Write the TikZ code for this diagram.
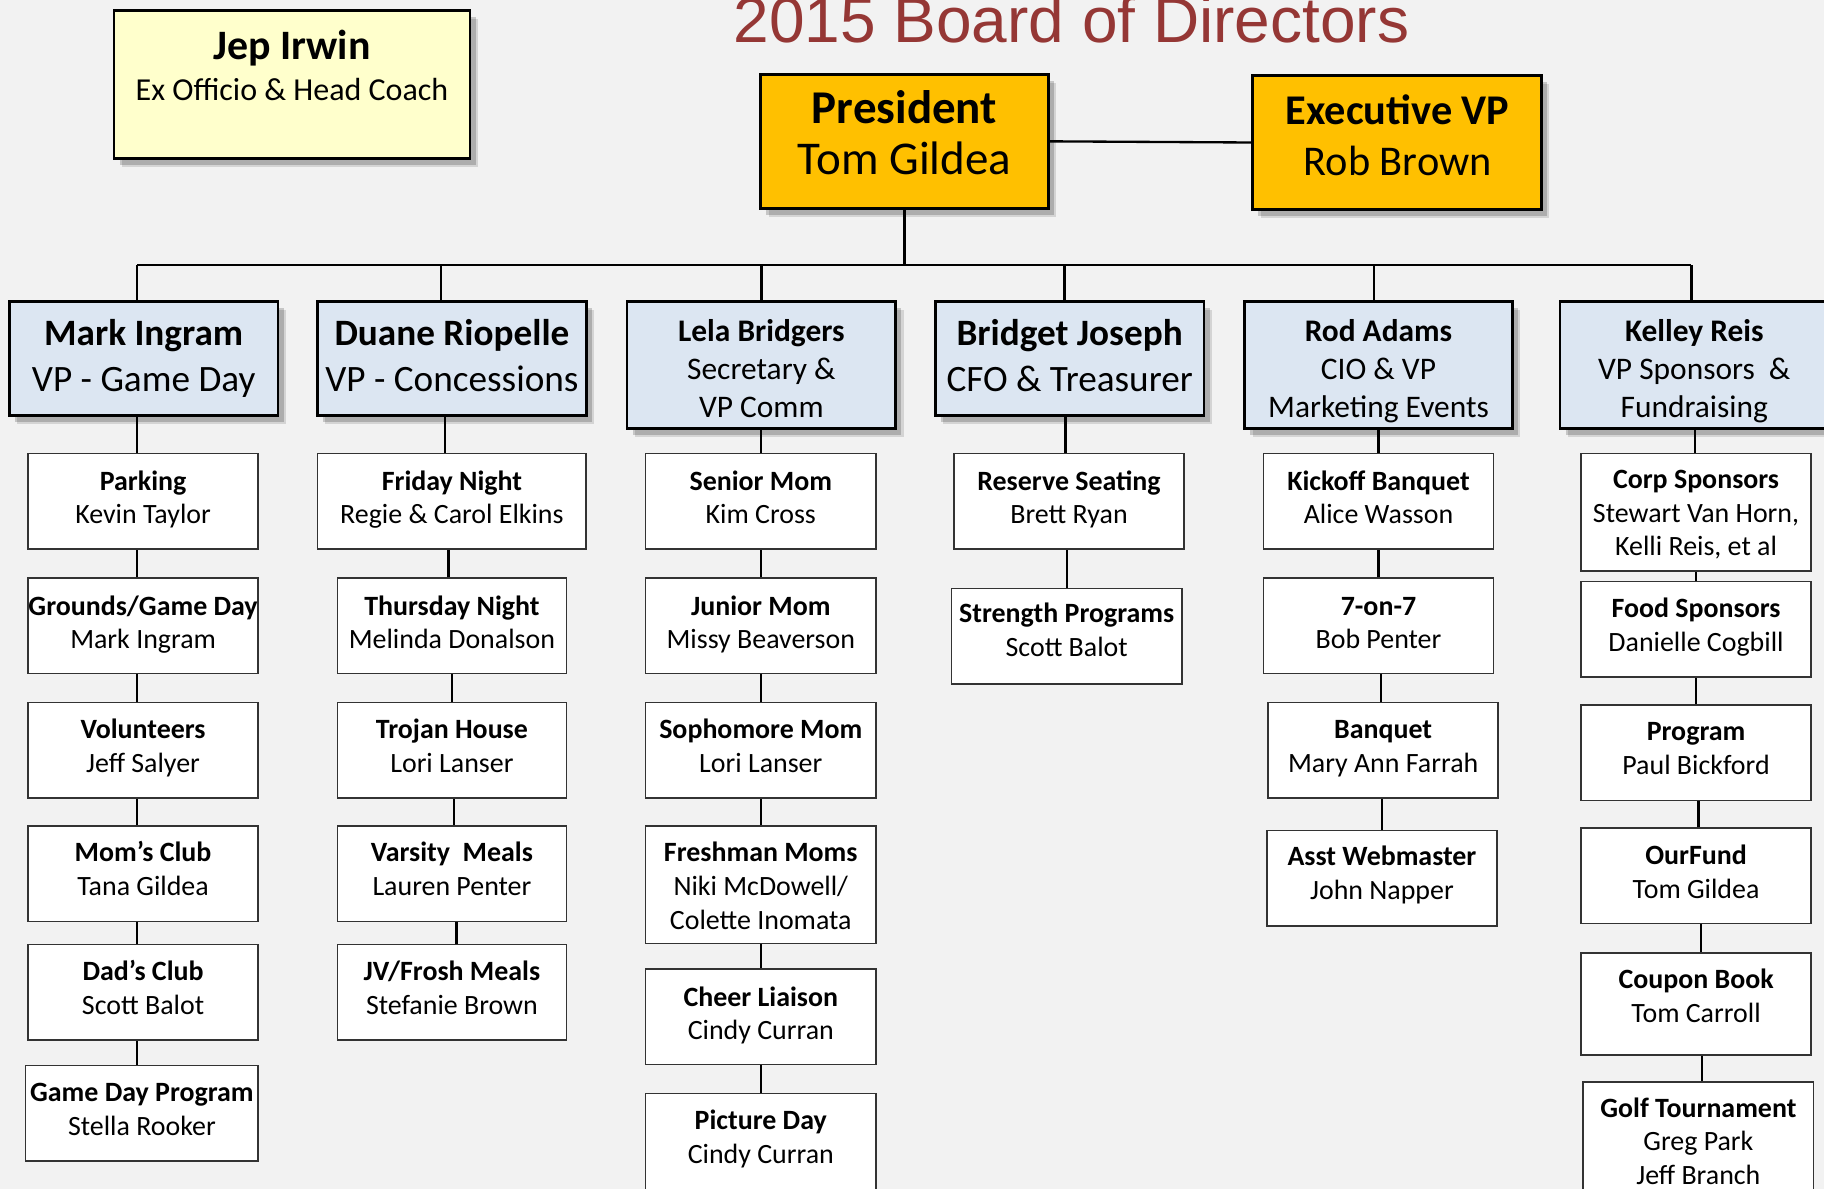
\documentclass[tikz,border=0pt]{standalone}
\usepackage{fontspec}
\setmainfont{Carlito}
\newfontfamily\titlefont{Liberation Sans}
\usetikzlibrary{shadows}
\definecolor{bgcol}{HTML}{F2F2F2}
\definecolor{paleyellow}{HTML}{FFFFCC}
\definecolor{gold}{HTML}{FFC000}
\definecolor{vpblue}{HTML}{DCE6F2}
\definecolor{titlered}{HTML}{953735}
\tikzset{
  softshadow/.style={general shadow={shadow xshift=3.4pt,shadow yshift=-3.8pt,fill=black,opacity=.12},
                     general shadow={shadow xshift=2.4pt,shadow yshift=-2.8pt,fill=black,opacity=.18}},
  topbox/.style={draw=black, line width=1.25pt, softshadow, inner sep=0pt},
  vpbox/.style={draw=black, line width=1.25pt, fill=vpblue, softshadow, inner sep=0pt},
  vpbox text/.style={align=center, inner sep=0pt, font=\fontsize{16}{19.5}\selectfont},
  vpsmall/.style={vpbox},
  vpsmall text/.style={align=center, inner sep=0pt, font=\fontsize{13.5}{16.25}\selectfont},
  subbox/.style={draw=black!80, line width=0.7pt, fill=white, inner sep=0pt},
  subbox text/.style={align=center, inner sep=0pt, font=\fontsize{12}{14.5}\selectfont},
  conn/.style={draw=black, line width=1pt},
}
\newcommand\bx[8]{%
  \pgfmathsetmacro\bxw{(#5-#3)*0.5}%
  \pgfmathsetmacro\bxh{(#6-#4)*0.5}%
  \node[#1, minimum width=\bxw pt, minimum height=\bxh pt] (#2) at ({(#3+#5)/2},{(#4+#6)/2}) {};
  \node[#1 text] (#2t) at ({(#3+#5)/2},#7) {\strut #8\strut};
}
\begin{document}
\begin{tikzpicture}[x=0.5pt,y=-0.5pt]
\useasboundingbox (0,0) rectangle (1568,1022);
\clip (0,0) rectangle (1568,1022);
\fill[bgcol] (0,0) rectangle (1568,1022);

% title
\node[anchor=base, inner sep=0pt, font=\fontsize{27.5}{33}\selectfont\titlefont, text=titlered] (title) at (921,36.5) {2015 Board of Directors};

% top boxes
\node[topbox, fill=paleyellow, minimum width=153pt, minimum height=63.5pt] (jep) at (251,72.5) {};
\node[anchor=base, inner sep=0pt, font=\fontsize{18}{20}\selectfont\bfseries] (jepname) at (251,51) {Jep Irwin};
\node[anchor=base, inner sep=0pt, font=\fontsize{13.75}{16}\selectfont] (jeprole) at (251,86.6) {Ex Officio \& Head Coach};

\node[topbox, fill=gold, minimum width=123.5pt, minimum height=57.5pt] (pres) at (777.5,121.5) {};
\node[anchor=base, inner sep=0pt, font=\fontsize{20.2}{22}\selectfont\bfseries] (presA) at (777.5,106) {President};
\node[anchor=base, inner sep=0pt, font=\fontsize{20.2}{22}\selectfont] (presB) at (777.5,150) {Tom Gildea};

\node[topbox, fill=gold, minimum width=124pt, minimum height=57.5pt] (evp) at (1201,122.5) {};
\node[anchor=base, inner sep=0pt, font=\fontsize{18.2}{22}\selectfont\bfseries] (evpA) at (1201.5,107) {Executive VP};
\node[anchor=base, inner sep=0pt, font=\fontsize{18.2}{22}\selectfont] (evpB) at (1201.5,151) {Rob Brown};

% VP boxes
\bx{vpbox}{mark}{8}{259}{239}{357}{309}{\textbf{Mark Ingram}\\VP - Game Day}
\bx{vpbox}{duane}{273}{259}{504}{357}{309}{\textbf{Duane Riopelle}\\VP - Concessions}
\bx{vpsmall}{lela}{539}{259}{770}{368}{319.5}{\textbf{Lela Bridgers}\\Secretary \&\\VP Comm}
\bx{vpbox}{bridget}{804}{259}{1035}{357}{309}{\textbf{Bridget Joseph}\\CFO \& Treasurer}
\bx{vpsmall}{rod}{1070}{259}{1300}{368}{319.5}{\textbf{Rod Adams}\\CIO \& VP\\Marketing Events}
\bx{vpsmall}{kelley}{1341}{259}{1572}{368}{319.5}{\textbf{Kelley Reis}\\VP Sponsors\ \ \&\\Fundraising}

% column 1
\bx{subbox}{c11}{24}{390}{222}{472}{430}{\textbf{Parking}\\Kevin Taylor}
\bx{subbox}{c12}{24}{497}{222}{579}{537.5}{\textbf{Grounds/Game Day}\\Mark Ingram}
\bx{subbox}{c13}{24}{604}{222}{686}{643.5}{\textbf{Volunteers}\\Jeff Salyer}
\bx{subbox}{c14}{24}{710}{222}{792}{749.5}{\textbf{Mom’s Club}\\Tana Gildea}
\bx{subbox}{c15}{24}{812}{222}{894}{851.5}{\textbf{Dad’s Club}\\Scott Balot}
\bx{subbox}{c16}{22}{916}{222}{998}{955.5}{\textbf{Game Day Program}\\Stella Rooker}

% column 2
\bx{subbox}{c21}{273}{390}{504}{472}{430}{\textbf{Friday Night}\\Regie \& Carol Elkins}
\bx{subbox}{c22}{290}{497}{487}{579}{537.5}{\textbf{Thursday Night}\\Melinda Donalson}
\bx{subbox}{c23}{290}{604}{487}{686}{643.5}{\textbf{Trojan House}\\Lori Lanser}
\bx{subbox}{c24}{290}{710}{487}{792}{749.5}{\textbf{Varsity\ \ Meals}\\Lauren Penter}
\bx{subbox}{c25}{290}{812}{487}{894}{851.5}{\textbf{JV/Frosh Meals}\\Stefanie Brown}

% column 3
\bx{subbox}{c31}{555}{390}{753}{472}{430}{\textbf{Senior Mom}\\Kim Cross}
\bx{subbox}{c32}{555}{497}{753}{579}{537.5}{\textbf{Junior Mom}\\Missy Beaverson}
\bx{subbox}{c33}{555}{604}{753}{686}{643.5}{\textbf{Sophomore Mom}\\Lori Lanser}
\bx{subbox}{c34}{555}{710}{753}{811}{764}{\textbf{Freshman Moms}\\Niki McDowell/\\Colette Inomata}
\bx{subbox}{c35}{555}{833}{753}{915}{873.5}{\textbf{Cheer Liaison}\\Cindy Curran}
\bx{subbox}{c36}{555}{940}{753}{1030}{979.5}{\textbf{Picture Day}\\Cindy Curran}

% column 4
\bx{subbox}{c41}{820}{390}{1018}{472}{430}{\textbf{Reserve Seating}\\Brett Ryan}
\bx{subbox}{c42}{818}{506}{1016}{588}{544}{\textbf{Strength Programs}\\Scott Balot}

% column 5
\bx{subbox}{c51}{1086}{390}{1284}{472}{430}{\textbf{Kickoff Banquet}\\Alice Wasson}
\bx{subbox}{c52}{1086}{497}{1284}{579}{537.5}{\textbf{7-on-7}\\Bob Penter}
\bx{subbox}{c53}{1090}{604}{1288}{686}{643.5}{\textbf{Banquet}\\Mary Ann Farrah}
\bx{subbox}{c54}{1089}{714}{1287}{796}{753}{\textbf{Asst Webmaster}\\John Napper}

% column 6
\bx{subbox}{c61}{1359}{390}{1557}{491}{443}{\textbf{Corp Sponsors}\\Stewart Van Horn,\\Kelli Reis, et al}
\bx{subbox}{c62}{1359}{500}{1557}{582}{539.5}{\textbf{Food Sponsors}\\Danielle Cogbill}
\bx{subbox}{c63}{1359}{606}{1557}{688}{645.5}{\textbf{Program}\\Paul Bickford}
\bx{subbox}{c64}{1359}{712}{1557}{794}{752}{\textbf{OurFund}\\Tom Gildea}
\bx{subbox}{c65}{1359}{819}{1557}{907}{858.5}{\textbf{Coupon Book}\\Tom Carroll}
\bx{subbox}{c66}{1361}{930}{1559}{1040}{983.5}{\textbf{Golf Tournament}\\Greg Park\\Jeff Branch}

% connectors
\coordinate (busy) at (0,228);
\coordinate (busL) at ([xshift=-2.75pt]mark.north |- busy);
\coordinate (busR) at ([xshift=-1.25pt]kelley.north |- busy);
\draw[conn] (pres.east) -- (evp.west);
\draw[conn] (pres.south) -- (pres.south |- busy);
\draw[conn] (busL) -- (busR);
\foreach \v/\o in {mark/-2.75,duane/-4.75,lela/0,bridget/-2.25,rod/-2,kelley/-1.25}
  \draw[conn] ([xshift=\o pt]\v.north) -- ([xshift=\o pt]\v.north |- busy);
\foreach \a/\b/\o in {mark/c11/-2.5,c11/c12/-2.5,c12/c13/-2.5,c13/c14/-2.5,c14/c15/-2.5,c15/c16/-2,
                   duane/c21/-3,c21/c22/-1.5,c22/c23/0,c23/c24/1,c24/c25/2,
                   lela/c31/0,c31/c32/0,c32/c33/0,c33/c34/0,c34/c35/0,c35/c36/0,
                   bridget/c41/-1.5,c41/c42/0,
                   rod/c51/0,c51/c52/0,c52/c53/-1,c53/c54/0,
                   kelley/c61/-0.5,c61/c62/0,c62/c63/0,c63/c64/1,c64/c65/2,c65/c66/1.5}
  \draw[conn] ([xshift=\o pt]\b.north) -- ([xshift=\o pt]\b.north |- \a.south);
\end{tikzpicture}
\end{document}
